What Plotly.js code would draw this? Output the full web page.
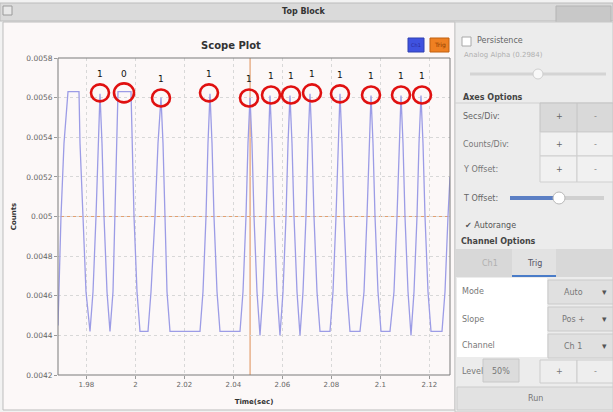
<!DOCTYPE html>
<html>
<head>
<meta charset="utf-8">
<script src="https://cdn.plot.ly/plotly-3.0.1.min.js"></script>
<style>
html,body{margin:0;padding:0;background:#f2f2f2;}
#chart{width:613px;height:412px;}
</style>
</head>
<body>
<div id="chart"></div>
<script>
const timeSec = [
  1.96840,1.96962,1.97085,1.97248,1.97697,1.97738,1.97860,1.97983,1.98146,
  1.98269,1.98391,1.98473,1.98554,1.98636,1.98718,1.98840,1.98962,
  1.99085,1.99167,1.99248,1.99289,1.99820,1.99860,1.99942,2.00065,2.00187,2.00514,
  2.00636,2.00799,2.00922,2.01044,2.01126,2.01207,2.01289,2.01411,2.02636,
  2.02758,2.02881,2.02962,2.03044,2.03126,2.03207,2.03330,2.03452,2.04269,
  2.04391,2.04513,2.04595,2.04677,2.04758,2.04840,2.04962,2.05085,
  2.05207,2.05330,2.05411,2.05493,2.05575,2.05656,2.05779,2.05901,
  2.06024,2.06146,2.06228,2.06309,2.06391,2.06473,2.06595,2.06718,
  2.06840,2.06962,2.07044,2.07126,2.07207,2.07289,2.07411,2.07534,2.07942,
  2.08065,2.08187,2.08269,2.08350,2.08432,2.08514,2.08636,2.08758,2.09167,
  2.09330,2.09452,2.09534,2.09616,2.09697,2.09779,2.09901,2.10024,2.10391,
  2.10554,2.10677,2.10758,2.10840,2.10922,2.11003,2.11126,2.11248,
  2.11371,2.11493,2.11575,2.11656,2.11738,2.11820,2.11942,2.12065,2.12514,
  2.12636,2.12758,2.12840
];
const counts = [
  0.00445,0.00500,0.00537,0.00563,0.00563,0.00537,0.00500,0.00462,0.00442,
  0.00462,0.00500,0.00537,0.00562,0.00537,0.00500,0.00462,0.00442,
  0.00462,0.00500,0.00537,0.00563,0.00563,0.00537,0.00500,0.00462,0.00442,0.00442,
  0.00462,0.00500,0.00537,0.00560,0.00537,0.00500,0.00462,0.00442,0.00442,
  0.00462,0.00500,0.00537,0.00562,0.00537,0.00500,0.00462,0.00442,0.00442,
  0.00462,0.00500,0.00537,0.00560,0.00537,0.00500,0.00462,0.00440,
  0.00462,0.00500,0.00537,0.00561,0.00537,0.00500,0.00462,0.00440,
  0.00462,0.00500,0.00537,0.00561,0.00537,0.00500,0.00462,0.00440,
  0.00462,0.00500,0.00537,0.00562,0.00537,0.00500,0.00462,0.00442,0.00442,
  0.00462,0.00500,0.00537,0.00562,0.00537,0.00500,0.00462,0.00442,0.00442,
  0.00462,0.00500,0.00537,0.00561,0.00537,0.00500,0.00462,0.00442,0.00442,
  0.00462,0.00500,0.00537,0.00561,0.00537,0.00500,0.00462,0.00440,
  0.00462,0.00500,0.00537,0.00561,0.00537,0.00500,0.00462,0.00442,0.00442,
  0.00462,0.00500,0.00520
];
// decoded bit marks (red circles)
const bitTimes  = [1.98554,1.99534,2.01044,2.03003,2.04636,2.05534,2.06350,2.07207,2.08350,2.09616,2.10840,2.11697];
const bitCounts = [0.005624,0.005624,0.005598,0.005624,0.005598,0.005613,0.005613,0.005624,0.005619,0.005613,0.005613,0.005613];
const bitLabels = ["1","0","1","1","1","1","1","1","1","1","1","1"];
// trigger markers
const triggerTime = 2.0468;
const triggerLevel = 0.005;
// axis
const xRange = [1.9684, 2.1284];
const yRange = [0.0042, 0.0058];

// ---- layout helpers: pixel position -> paper fraction ----
const L = 58, R = 450, T = 58, B = 375;
const PX = x => (x - L) / (R - L);
const PY = y => (B - y) / (B - T);

const FONT = "DejaVu Sans, Liberation Sans, sans-serif";
const shapes = [];
const ann = [];

function rect(x0, y0, x1, y1, fill, line, lw, layer) {
  shapes.push({type:'rect', xref:'paper', yref:'paper', x0:PX(x0), x1:PX(x1), y0:PY(y0), y1:PY(y1),
    fillcolor:fill, line:{color:line||'rgba(0,0,0,0)', width: (lw===undefined? (line?1:0) : lw)}, layer: layer||'below'});
}
function hline(x0, x1, y, color, w) {
  shapes.push({type:'line', xref:'paper', yref:'paper', x0:PX(x0), x1:PX(x1), y0:PY(y), y1:PY(y),
    line:{color:color, width:w||1}, layer:'below'});
}
function text(x, y, s, opt) {
  opt = opt || {};
  ann.push({xref:'paper', yref:'paper', x:PX(x), y:PY(y), text:s, showarrow:false,
    xanchor: opt.anchor || 'left', yanchor:'middle',
    font:{family: opt.family || FONT, size: opt.size || 8, color: opt.color || '#555'},
    textangle: opt.angle || 0});
}

// window chrome
rect(0, 0, 613, 412, '#f2f2f2');
rect(0, 3, 613, 21, '#dadada', '#bcbcbc');
rect(3, 6, 12, 15, '#e8e8e8', '#9a9a9a');
rect(556, 6, 611, 24, '#c8c8c8', '#b4b4b4');
text(303, 11, '<b>Top Block</b>', {anchor:'center', size:8, color:'#333'});
// plot widget
rect(3, 22, 455, 410, '#fcf8f8', '#bdbdbd');
// right panel
rect(455, 22, 613, 412, '#ececec', '#c8c8c8');

// Persistence
rect(462, 37, 471, 46, '#ffffff', '#a8a8a8');
text(475, 41, 'Persistence', {color:'#666'});
text(462, 55, 'Analog Alpha (0.2984)', {size:7, color:'#b0b0b0'});
hline(470, 606, 74, '#d4d4d4', 3);
shapes.push({type:'circle', xref:'paper', yref:'paper', x0:PX(533), x1:PX(543), y0:PY(69), y1:PY(79),
  fillcolor:'#f8f8f8', line:{color:'#cfcfcf', width:1}, layer:'below'});

// Axes options
text(461, 97, '<b>Axes Options</b>', {color:'#444'});
hline(455, 613, 103, '#d0d0d0', 1);
rect(540, 103, 613, 132, '#d9d9d9', '#c4c4c4');
rect(540, 132, 577, 156, '#f1f1f1', '#cfcfcf');
rect(577, 132, 613, 156, '#f1f1f1', '#cfcfcf');
rect(540, 156, 577, 182, '#f1f1f1', '#cfcfcf');
rect(577, 156, 613, 182, '#f1f1f1', '#cfcfcf');
shapes.push({type:'line', xref:'paper', yref:'paper', x0:PX(577), x1:PX(577), y0:PY(103), y1:PY(132), line:{color:'#c4c4c4', width:1}, layer:'below'});
text(461, 117, 'Secs/Div:', {color:'#666'});
text(461, 144, 'Counts/Div:', {color:'#777'});
text(461, 169, 'Y Offset:', {color:'#777'});
[117,144,169].forEach(y => {
  text(559, y, '+', {anchor:'center', color:'#666'});
  text(595, y, '-', {anchor:'center', color:'#888'});
});
text(461, 198, 'T Offset:', {color:'#666'});
hline(510, 604, 198, '#d0d0d0', 4);
hline(510, 559, 198, '#5b7fc4', 4);
shapes.push({type:'circle', xref:'paper', yref:'paper', x0:PX(553), x1:PX(565), y0:PY(192), y1:PY(204),
  fillcolor:'#ffffff', line:{color:'#b8b8b8', width:1}, layer:'below'});

text(463, 225, '\u2714 Autorange', {color:'#555'});
text(459, 242, '<b>Channel Options</b>', {color:'#444'});
rect(455, 249, 613, 277, '#d8d8d8');
rect(512, 249, 556, 277, '#e2e2e2');
hline(512, 556, 276, '#4a7cc8', 2);
text(490, 263, 'Ch1', {anchor:'center', color:'#b0b0b0'});
text(534, 263, 'Trig', {anchor:'center', color:'#556'});
rect(457, 278, 547, 357, '#ffffff');
rect(548, 280, 613, 304, '#e0e0e0', '#cacaca');
rect(548, 307, 613, 331, '#e0e0e0', '#cacaca');
rect(548, 334, 613, 358, '#e0e0e0', '#cacaca');
text(460, 291, 'Mode', {color:'#777'});
text(460, 319, 'Slope', {color:'#777'});
text(460, 345, 'Channel', {color:'#777'});
text(562, 292, 'Auto', {color:'#777'});
text(560, 319, 'Pos +', {color:'#777'});
text(562, 346, 'Ch 1', {color:'#777'});
[292,319,346].forEach(y => text(604, y, '\u25BE', {anchor:'center', color:'#555', size:9}));
text(460, 371, 'Level', {color:'#777'});
rect(483, 359, 519, 382, '#dcdcdc', '#c8c8c8');
text(501, 371, '50%', {anchor:'center', color:'#777'});
rect(540, 360, 577, 383, '#eeeeee', '#cccccc');
rect(577, 360, 613, 383, '#eeeeee', '#cccccc');
text(559, 371, '+', {anchor:'center', color:'#777'});
text(595, 371, '-', {anchor:'center', color:'#888'});
rect(457, 387, 613, 410, '#e2e2e2', '#cccccc');
text(535, 398, 'Run', {anchor:'center', color:'#777'});

// plot title and legend chips
text(231, 45, '<b>Scope Plot</b>', {anchor:'center', size:10, color:'#333'});
rect(408, 38, 424, 52, '#3f52e0', '#3040b0');
text(416, 45, 'Ch1', {anchor:'center', size:5, color:'#2a2a9a'});
rect(430, 38, 449, 52, '#ef8022', '#c06010');
text(439.5, 45, 'Trig', {anchor:'center', size:6, color:'#8a3a00'});

// plot frame
shapes.push({type:'rect', xref:'paper', yref:'paper', x0:0, x1:1, y0:0, y1:1,
  line:{color:'#7a7a7a', width:1}, fillcolor:'rgba(0,0,0,0)', layer:'above'});

// trigger lines (data coords)
shapes.push({type:'line', xref:'x', yref:'paper', x0:triggerTime, x1:triggerTime, y0:0, y1:1,
  line:{color:'#e3a070', width:1.2}, layer:'below'});
shapes.push({type:'line', xref:'paper', yref:'y', x0:0, x1:1, y0:triggerLevel, y1:triggerLevel,
  line:{color:'#e3a070', width:1.2}, layer:'below'});

// bit circles and labels
bitTimes.forEach((t, i) => {
  const r = bitLabels[i] === '0' ? 10 : 9;
  shapes.push({type:'circle', xref:'x', yref:'y', xsizemode:'pixel', ysizemode:'pixel',
    xanchor:t, yanchor:bitCounts[i], x0:-r, x1:r, y0:-r+0.5, y1:r-0.5,
    line:{color:'#e01010', width:2.6}, fillcolor:'rgba(0,0,0,0)', layer:'above'});
  ann.push({xref:'x', yref:'y', x:t, y:bitCounts[i], yshift:19, text:bitLabels[i], showarrow:false,
    xanchor:'center', yanchor:'middle', font:{family:FONT, size:9, color:'#111'}});
});

const trace = {
  type:'scatter', mode:'lines', x:timeSec, y:counts,
  line:{color:'#9c9ce6', width:1.3}, hoverinfo:'skip', name:'Ch1'
};

const layout = {
  width:613, height:412,
  margin:{l:L, r:613-R, t:T, b:412-B},
  paper_bgcolor:'#f2f2f2', plot_bgcolor:'#fefcfc',
  showlegend:false,
  font:{family:FONT},
  xaxis:{range:xRange, tick0:1.98, dtick:0.02, showgrid:true, gridcolor:'#d8d8d8', griddash:'dot',
    zeroline:false, showline:false, ticks:'outside', ticklen:3, tickcolor:'#999',
    tickfont:{size:7, color:'#666'},
    title:{text:'<b>Time(sec)</b>', font:{size:7, color:'#333'}, standoff:10}},
  yaxis:{range:yRange, tick0:0.0042, dtick:0.0002, showgrid:true, gridcolor:'#d8d8d8', griddash:'dot',
    zeroline:false, showline:false, ticks:'outside', ticklen:3, tickcolor:'#999',
    tickfont:{size:7.5, color:'#666'},
    title:{text:'<b>Counts</b>', font:{size:7, color:'#333'}, standoff:8}},
  shapes:shapes, annotations:ann
};

Plotly.newPlot('chart', [trace], layout, {displayModeBar:false, staticPlot:true});
</script>
</body>
</html>
